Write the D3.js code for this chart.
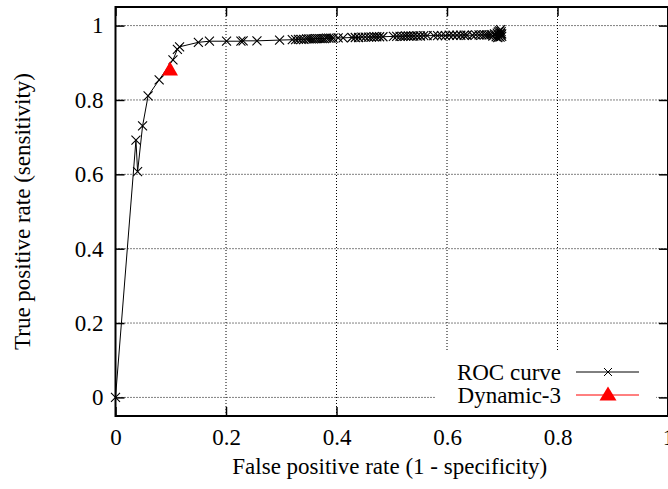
<!DOCTYPE html>
<html>
<head>
<meta charset="utf-8">
<script src="https://cdn.jsdelivr.net/npm/d3@7"></script>
<style>
  body { margin: 0; background: #fff; }
  svg { display: block; }
  svg text { font-family: "Liberation Serif", "Times New Roman", serif; }
</style>
</head>
<body>
<div id="chart"></div>
<script>
// chart size
var svgWidth = 668;
var svgHeight = 489;

// plot area edges (right edge falls just off the picture)
var plot = {left: 115.5, right: 668, top: 7, bottom: 416};

// ROC curve points (false positive rate, true positive rate)
var fpr = [0, 0.037, 0.040, 0.049, 0.059, 0.079, 0.104, 0.112, 0.116, 0.150, 0.170, 0.201, 0.227, 0.231, 0.256, 0.297,
  0.320, 0.326, 0.331, 0.336, 0.341, 0.346, 0.350, 0.354, 0.358, 0.362, 0.366, 0.370, 0.374, 0.378, 0.382, 0.386, 0.390, 0.394,
  0.403, 0.412, 0.428, 0.434, 0.440, 0.446, 0.452, 0.458, 0.463, 0.468, 0.473, 0.478, 0.484,
  0.503, 0.509, 0.515, 0.520, 0.525, 0.530, 0.535, 0.540, 0.546, 0.552, 0.558, 0.564,
  0.576, 0.583, 0.590, 0.597, 0.604, 0.611, 0.618, 0.625, 0.631, 0.636,
  0.646, 0.652, 0.658, 0.663, 0.668, 0.672, 0.676, 0.680, 0.683, 0.686, 0.689, 0.691, 0.692, 0.693,
  0.694, 0.695, 0.696, 0.697, 0.697, 0.698, 0.698, 0.699, 0.699];
var tpr = [0, 0.692, 0.607, 0.730, 0.811, 0.854, 0.908, 0.936, 0.943, 0.955, 0.958, 0.958, 0.958, 0.959, 0.959, 0.961,
  0.962, 0.962, 0.963, 0.963, 0.963, 0.964, 0.964, 0.964, 0.964, 0.965, 0.965, 0.965, 0.965, 0.965, 0.966, 0.966, 0.966, 0.966,
  0.967, 0.967, 0.968, 0.968, 0.968, 0.969, 0.969, 0.969, 0.969, 0.970, 0.970, 0.970, 0.970,
  0.971, 0.971, 0.971, 0.971, 0.972, 0.972, 0.972, 0.972, 0.972, 0.972, 0.973, 0.973,
  0.973, 0.973, 0.973, 0.973, 0.974, 0.974, 0.974, 0.974, 0.974, 0.974,
  0.974, 0.975, 0.975, 0.975, 0.975, 0.975, 0.975, 0.976, 0.972, 0.978, 0.970, 0.980, 0.968, 0.983,
  0.972, 0.986, 0.969, 0.979, 0.989, 0.975, 0.984, 0.971, 0.978];

// single operating point
var dynamicPoint = {fpr: 0.0986, tpr: 0.881};

var xTicks = [0, 0.2, 0.4, 0.6, 0.8, 1];
var yTicks = [0, 0.2, 0.4, 0.6, 0.8, 1];

var legendLabels = ["ROC curve", "Dynamic-3"];

var rocData = fpr.map(function(d, i) { return {x: d, y: tpr[i]}; });

var svg = d3.select("#chart")
  .append("svg")
  .attr("width", svgWidth)
  .attr("height", svgHeight);

var xScale = d3.scaleLinear().domain([0, 1]).range([plot.left, plot.right]);
var yScale = d3.scaleLinear().domain([-0.05, 1.05]).range([plot.bottom, plot.top]);

// dotted grid
svg.append("g")
  .selectAll("line")
  .data(xTicks.slice(1))
  .enter().append("line")
  .attr("x1", d => xScale(d)).attr("x2", d => xScale(d))
  .attr("y1", plot.top).attr("y2", plot.bottom)
  .attr("stroke", "#000").attr("stroke-width", 1)
  .attr("stroke-dasharray", "1,2");

svg.append("g")
  .selectAll("line")
  .data(yTicks)
  .enter().append("line")
  .attr("x1", plot.left).attr("x2", plot.right)
  .attr("y1", d => yScale(d)).attr("y2", d => yScale(d))
  .attr("stroke", "#000").attr("stroke-width", 1)
  .attr("stroke-dasharray", "1,2");

// axes with inward ticks on all four sides
var tickFmt = d3.format("~g");
var fontSize = "23px";

function styleLabels(g) {
  g.attr("font-family", null);
  g.selectAll("text")
    .style("font-family", "'Liberation Serif', serif")
    .style("font-size", fontSize)
    .attr("fill", "#000");
}

svg.append("g")
  .attr("transform", `translate(0, ${plot.bottom})`)
  .call(d3.axisBottom(xScale).tickValues(xTicks).tickSizeInner(-9).tickSizeOuter(0).tickPadding(13).tickFormat(tickFmt))
  .call(g => g.select(".domain").remove())
  .call(g => g.selectAll("line").attr("stroke-width", 1.5))
  .call(styleLabels);

svg.append("g")
  .attr("transform", `translate(0, ${plot.top})`)
  .call(d3.axisTop(xScale).tickValues(xTicks).tickSizeInner(-9).tickSizeOuter(0).tickFormat(""))
  .call(g => g.select(".domain").remove())
  .call(g => g.selectAll("line").attr("stroke-width", 1.5));

svg.append("g")
  .attr("transform", `translate(${plot.left}, 0)`)
  .call(d3.axisLeft(yScale).tickValues(yTicks).tickSizeInner(-9).tickSizeOuter(0).tickPadding(12).tickFormat(tickFmt))
  .call(g => g.select(".domain").remove())
  .call(g => g.selectAll("line").attr("stroke-width", 1.5))
  .call(styleLabels);

svg.append("g")
  .attr("transform", `translate(${plot.right}, 0)`)
  .call(d3.axisRight(yScale).tickValues(yTicks).tickSizeInner(-9).tickSizeOuter(0).tickFormat(""))
  .call(g => g.select(".domain").remove())
  .call(g => g.selectAll("line").attr("stroke-width", 1.5));

// legend background (opaque box hides the grid)
svg.append("rect")
  .attr("x", 436).attr("y", 352)
  .attr("width", 220).attr("height", plot.bottom - 352)
  .attr("fill", "#fff");

// ROC curve line
var line = d3.line()
  .x(d => xScale(d.x))
  .y(d => yScale(d.y));

svg.append("path")
  .datum(rocData)
  .attr("d", line)
  .attr("fill", "none")
  .attr("stroke", "#000")
  .attr("stroke-width", 1);

// cross markers
function crossPath(s) {
  return `M${-s},${-s}L${s},${s}M${-s},${s}L${s},${-s}`;
}

svg.append("g")
  .selectAll("path")
  .data(rocData)
  .enter().append("path")
  .attr("transform", d => `translate(${xScale(d.x)}, ${yScale(d.y)})`)
  .attr("d", crossPath(4.5))
  .attr("stroke", "#000")
  .attr("stroke-width", 1.1)
  .attr("fill", "none");

// triangle marker
function triPath(w, h) {
  return `M0,${-h * 0.6}L${w / 2},${h * 0.4}L${-w / 2},${h * 0.4}Z`;
}

svg.append("path")
  .attr("transform", `translate(${xScale(dynamicPoint.fpr)}, ${yScale(dynamicPoint.tpr)})`)
  .attr("d", triPath(16, 14))
  .attr("fill", "#ff0000");

// frame
svg.append("rect")
  .attr("x", plot.left).attr("y", plot.top)
  .attr("width", plot.right - plot.left).attr("height", plot.bottom - plot.top)
  .attr("fill", "none").attr("stroke", "#000").attr("stroke-width", 2);

// legend
var legendRows = [372, 395];
var legend = svg.append("g");

legend.selectAll("text")
  .data(legendLabels)
  .enter().append("text")
  .attr("x", 561)
  .attr("y", (d, i) => legendRows[i])
  .attr("dy", "0.35em")
  .attr("text-anchor", "end")
  .style("font-size", fontSize)
  .text(d => d);

legend.append("line")
  .attr("x1", 576).attr("x2", 639)
  .attr("y1", legendRows[0]).attr("y2", legendRows[0])
  .attr("stroke", "#000").attr("stroke-width", 1);
legend.append("path")
  .attr("transform", `translate(608, ${legendRows[0]})`)
  .attr("d", crossPath(4))
  .attr("stroke", "#000").attr("stroke-width", 1);

legend.append("line")
  .attr("x1", 576).attr("x2", 639)
  .attr("y1", legendRows[1]).attr("y2", legendRows[1])
  .attr("stroke", "#ff0000").attr("stroke-width", 1);
legend.append("path")
  .attr("transform", `translate(608, ${legendRows[1]})`)
  .attr("d", triPath(17, 14))
  .attr("fill", "#ff0000");

// axis titles
svg.append("text")
  .attr("x", (plot.left + plot.right) / 2 - 2)
  .attr("y", 474)
  .attr("text-anchor", "middle")
  .style("font-size", fontSize)
  .text("False positive rate (1 - specificity)");

svg.append("text")
  .attr("transform", `translate(30, ${(plot.top + plot.bottom) / 2}) rotate(-90)`)
  .attr("text-anchor", "middle")
  .style("font-size", fontSize)
  .text("True positive rate (sensitivity)");
</script>
</body>
</html>
